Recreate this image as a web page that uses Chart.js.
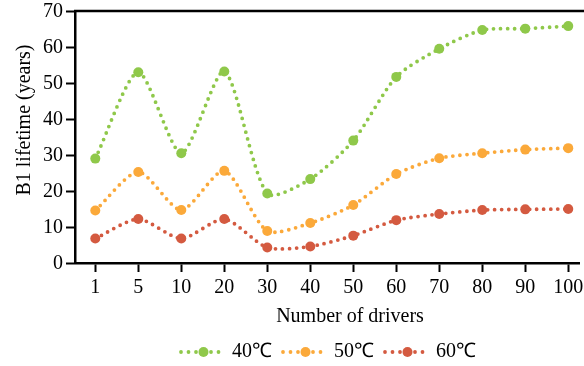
<!DOCTYPE html>
<html>
<head>
<meta charset="utf-8">
<script src="https://cdn.jsdelivr.net/npm/chart.js@4"></script>
<style>
  html, body { margin: 0; padding: 0; background: #fff; }
  #wrap { width: 584px; height: 366px; }
</style>
</head>
<body>
<div id="wrap"><canvas id="lifeChart" width="584" height="366"></canvas></div>
<script>
const drivers = ["1", "5", "10", "20", "30", "40", "50", "60", "70", "80", "90", "100"];
const life40 = [29, 53, 30.5, 53.2, 19.3, 23.3, 34, 51.7, 59.5, 64.7, 65.1, 65.8];
const life50 = [14.6, 25.3, 14.7, 25.6, 8.9, 11.1, 16.1, 24.7, 29.1, 30.5, 31.5, 31.9];
const life60 = [6.8, 12.2, 6.8, 12.2, 4.3, 4.6, 7.6, 11.9, 13.6, 14.7, 14.9, 15.0];
const seriesNames = ["40℃", "50℃", "60℃"];
const yTicks = [0, 10, 20, 30, 40, 50, 60, 70];

const FONT = "'Liberation Serif', 'Times New Roman', serif";
const colors = ["#8fc84a", "#fba93a", "#d45a40"];

// little dotted-line swatch with a big dot for the legend
function legendSwatch(color) {
  const c = document.createElement("canvas");
  c.width = 44;
  c.height = 12;
  const g = c.getContext("2d");
  g.fillStyle = color;
  [3, 10.5, 18, 33, 40.5].forEach((x) => {
    g.beginPath();
    g.arc(x, 6, 1.9, 0, Math.PI * 2);
    g.fill();
  });
  g.beginPath();
  g.arc(25.5, 6, 5, 0, Math.PI * 2);
  g.fill();
  return c;
}

const toPoints = (vals) => vals.map((v, i) => ({ x: i, y: v }));

const makeSet = (label, vals, color) => ({
  label,
  data: toPoints(vals),
  borderColor: color,
  backgroundColor: color,
  pointBackgroundColor: color,
  pointBorderWidth: 0,
  pointRadius: 5,
  borderWidth: 3.8,
  borderDash: [0, 7],
  borderCapStyle: "round",
  tension: 0.25,
  fill: false,
});

// axis titles and the top frame line
const extras = {
  id: "extras",
  afterDraw(chart) {
    const { ctx, chartArea } = chart;
    ctx.save();
    ctx.strokeStyle = "#000";
    ctx.lineWidth = 2.5;
    ctx.beginPath();
    ctx.moveTo(chartArea.left - 1, chartArea.top);
    ctx.lineTo(chart.width, chartArea.top);
    ctx.stroke();

    ctx.fillStyle = "#000";
    ctx.font = "20px " + FONT;
    ctx.textAlign = "center";
    ctx.textBaseline = "middle";
    ctx.fillText("Number of drivers", 350, 317);

    ctx.translate(25, 120);
    ctx.rotate(-Math.PI / 2);
    ctx.fillText("B1 lifetime (years)", 0, 0);
    ctx.restore();
  },
};

new Chart(document.getElementById("lifeChart"), {
  type: "line",
  data: {
    datasets: [
      makeSet(seriesNames[0], life40, colors[0]),
      makeSet(seriesNames[1], life50, colors[1]),
      makeSet(seriesNames[2], life60, colors[2]),
    ],
  },
  options: {
    responsive: false,
    animation: false,
    layout: { padding: { top: 11, right: 0, left: 0, bottom: -6 } },
    plugins: {
      tooltip: { enabled: false },
      legend: {
        position: "bottom",
        fullSize: false,
        labels: {
          usePointStyle: true,
          pointStyleWidth: 44,
          padding: 8,
          color: "#000",
          font: { family: FONT, size: 20 },
          generateLabels(chart) {
            const items = Chart.defaults.plugins.legend.labels.generateLabels(chart);
            items.forEach((it, i) => {
              it.pointStyle = legendSwatch(colors[i]);
              it.lineWidth = 0;
            });
            return items;
          },
        },
      },
    },
    scales: {
      x: {
        type: "linear",
        min: -0.472,
        max: 11.25,
        border: { color: "#000", width: 2.5 },
        grid: { drawOnChartArea: false, tickLength: 9, tickColor: "#000", tickWidth: 2 },
        afterFit: (scale) => {
          scale.height = 71;
          scale.paddingLeft = 0;
          scale.paddingRight = 0;
        },
        ticks: {
          stepSize: 1,
          includeBounds: false,
          autoSkip: false,
          maxRotation: 0,
          padding: 4,
          color: "#000",
          font: { family: FONT, size: 20 },
          callback: (v) => drivers[v],
        },
      },
      y: {
        min: 0,
        max: 70,
        border: { color: "#000", width: 2.5 },
        grid: { drawOnChartArea: false, tickLength: 9, tickColor: "#000", tickWidth: 2 },
        afterBuildTicks: (scale) => {
          scale.ticks = yTicks.map((v) => ({ value: v }));
        },
        afterFit: (scale) => {
          scale.width = 75;
          scale.paddingTop = 0;
          scale.paddingBottom = 0;
        },
        ticks: {
          padding: 3,
          labelOffset: 1,
          color: "#000",
          font: { family: FONT, size: 20 },
        },
      },
    },
  },
  plugins: [extras],
});
</script>
</body>
</html>
